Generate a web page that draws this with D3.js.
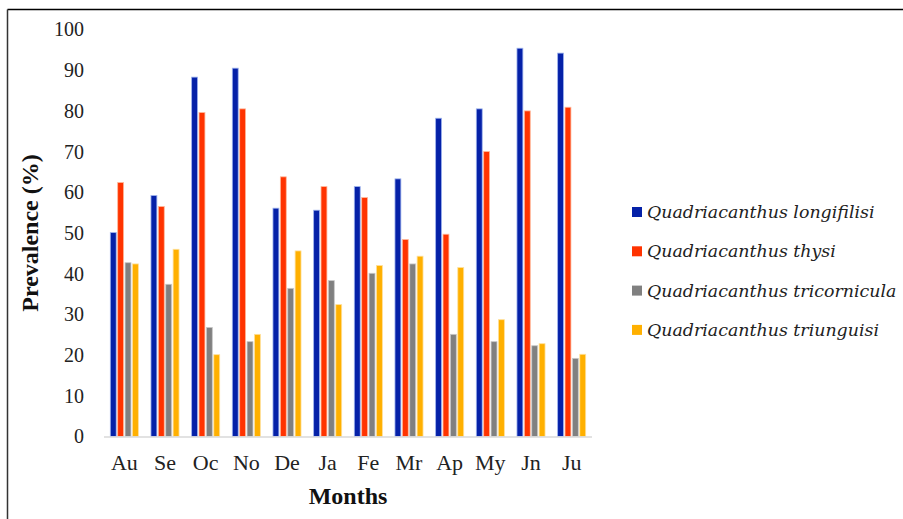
<!DOCTYPE html>
<html>
<head>
<meta charset="utf-8">
<script src="https://cdn.jsdelivr.net/npm/d3@7"></script>
<style>
  html, body { margin: 0; padding: 0; background: #fff; }
  svg { display: block; }
</style>
</head>
<body>
<svg id="chart" width="903" height="519"></svg>
<script>
const months = ["Au","Se","Oc","No","De","Ja","Fe","Mr","Ap","My","Jn","Ju"];
const seriesNames = [
  "Quadriacanthus longifilisi",
  "Quadriacanthus thysi",
  "Quadriacanthus tricornicula",
  "Quadriacanthus triunguisi"
];
const longifilisi = [50.1, 59.2, 88.3, 90.5, 56.1, 55.6, 61.4, 63.3, 78.2, 80.5, 95.4, 94.2];
const thysi       = [62.4, 56.5, 79.6, 80.5, 63.8, 61.4, 58.7, 48.4, 49.7, 70.0, 80.0, 80.9];
const tricornicula= [42.7, 37.4, 26.8, 23.3, 36.4, 38.3, 40.1, 42.4, 25.1, 23.3, 22.3, 19.2];
const triunguisi  = [42.4, 46.0, 20.1, 25.1, 45.6, 32.4, 42.0, 44.3, 41.5, 28.7, 22.8, 20.2];
const yTicks = [0,10,20,30,40,50,60,70,80,90,100];
const colors = ["#0521a8", "#ff3300", "#808080", "#ffb000"];
const halo   = ["#9fb4ee", "#ffb89a", "#c8c8c8", "#ffe09a"];

const seriesValues = [longifilisi, thysi, tricornicula, triunguisi];
const data = months.map((m, i) => ({ month: m, values: seriesValues.map(s => s[i]) }));

const svg = d3.select("#chart");
const mLeft = 104, mRight = 592, mTop = 29.5, mBottom = 436.5;

// frame (top and left borders)
svg.append("line").attr("x1", 7.5).attr("x2", 903).attr("y1", 9.5).attr("y2", 9.5)
  .attr("stroke", "#000").attr("stroke-width", 1.5);
svg.append("line").attr("x1", 7.5).attr("x2", 7.5).attr("y1", 9.5).attr("y2", 519)
  .attr("stroke", "#333").attr("stroke-width", 1.5);

const x0 = d3.scaleBand().domain(months).range([mLeft, mRight]).paddingInner(0.31).paddingOuter(0.155);
const x1 = d3.scaleBand().domain(d3.range(4)).range([0, x0.bandwidth()]).paddingInner(0.2).paddingOuter(0);
const y = d3.scaleLinear().domain([0, 100]).range([mBottom, mTop]);

// y axis labels
const yAxis = d3.axisLeft(y).tickValues(yTicks).tickSize(0).tickPadding(0);
const yg = svg.append("g").attr("transform", `translate(84,0)`).call(yAxis);
yg.select(".domain").remove();
yg.selectAll("text").attr("font-family", "Liberation Serif, Times New Roman, serif")
  .attr("font-size", 20).attr("fill", "#222");

// bars
const groups = svg.append("g").selectAll("g").data(data).join("g")
  .attr("transform", d => `translate(${x0(d.month)},0)`);
groups.selectAll("rect").data(d => d.values.map((v, k) => ({ v, k }))).join("rect")
  .attr("x", d => x1(d.k))
  .attr("width", x1.bandwidth())
  .attr("y", d => y(d.v))
  .attr("height", d => y(0) - y(d.v))
  .attr("fill", d => colors[d.k])
  .attr("stroke", d => halo[d.k])
  .attr("stroke-width", 0.8);

// baseline
svg.append("line").attr("x1", mLeft).attr("x2", mRight).attr("y1", mBottom + 0.5).attr("y2", mBottom + 0.5)
  .attr("stroke", "#d9d9d9").attr("stroke-width", 1.5);

// x axis
const xAxis = d3.axisBottom(x0).tickSize(0).tickPadding(0);
const xg = svg.append("g").attr("transform", `translate(0,${mBottom + 17.5})`).call(xAxis);
xg.select(".domain").remove();
xg.selectAll("text").attr("font-family", "Liberation Serif, Times New Roman, serif")
  .attr("font-size", 22).attr("fill", "#222");

// axis titles
svg.append("text").attr("x", (mLeft + mRight) / 2).attr("y", 504)
  .attr("text-anchor", "middle").attr("font-family", "Liberation Serif, Times New Roman, serif")
  .attr("font-weight", "bold").attr("font-size", 24).attr("fill", "#111").text("Months");
svg.append("text").attr("transform", "translate(38,233) rotate(-90)")
  .attr("text-anchor", "middle").attr("font-family", "Liberation Serif, Times New Roman, serif")
  .attr("font-weight", "bold").attr("font-size", 24).attr("fill", "#111").text("Prevalence (%)");

// legend
const legend = svg.append("g").selectAll("g").data(seriesNames).join("g")
  .attr("transform", (d, i) => `translate(632,${212 + i * 39.3})`);
legend.append("rect").attr("x", 0).attr("y", -5).attr("width", 10).attr("height", 10)
  .attr("fill", (d, i) => colors[i]);
legend.append("text").attr("x", 15).attr("y", 6)
  .attr("font-family", "DejaVu Serif, serif").attr("font-style", "italic")
  .attr("font-size", 17.4).attr("fill", "#222").text(d => d);
</script>
</body>
</html>
